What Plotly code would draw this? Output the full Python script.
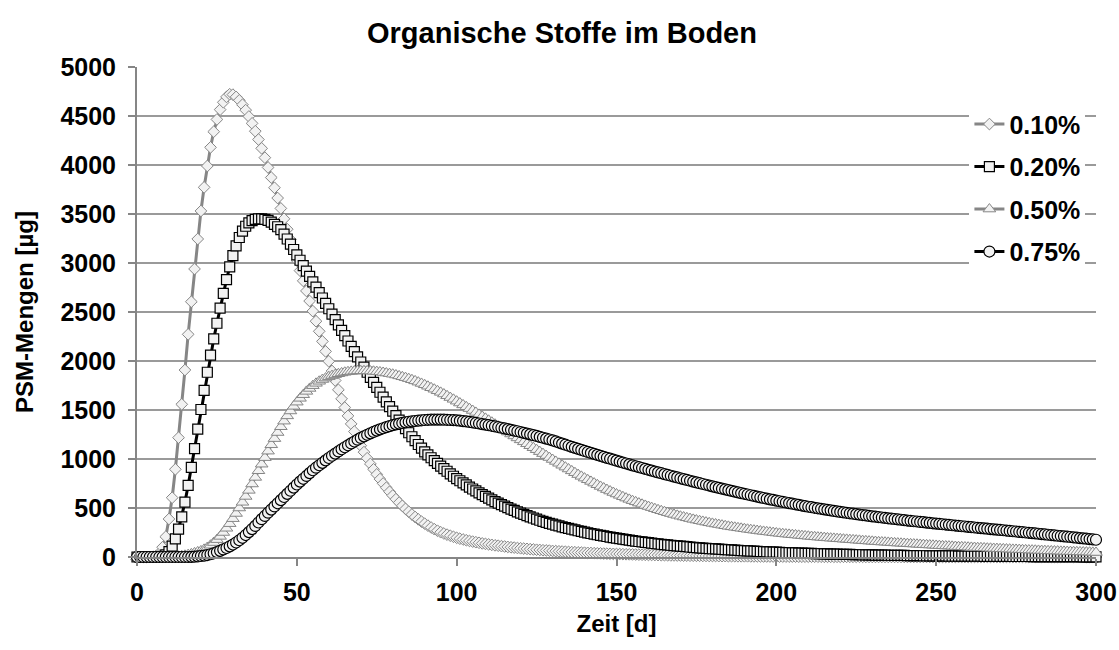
import plotly.graph_objects as go

days = list(range(0, 301))

s010 = [
    0, 0, 0, 0, 1, 3, 12, 40, 100, 207,
    388, 605, 895, 1218, 1558, 1908, 2272, 2605, 2939, 3245,
    3531, 3772, 3990, 4180, 4340, 4465, 4565, 4640, 4695, 4722,
    4718, 4695, 4660, 4615, 4560, 4495, 4425, 4345, 4260, 4170,
    4075, 3975, 3872, 3768, 3663, 3557, 3451, 3345, 3239, 3133,
    3027, 2922, 2818, 2715, 2612, 2509, 2406, 2303, 2200, 2098,
    1997, 1898, 1801, 1706, 1614, 1525, 1440, 1358, 1280, 1206,
    1136, 1070, 1008, 950, 895, 843, 795, 750, 707, 666,
    627, 590, 555, 522, 491, 462, 434, 408, 384, 361,
    340, 320, 301, 284, 268, 253, 240, 228, 217, 206,
    196, 187, 179, 171, 164, 157, 151, 145, 139, 134,
    129, 124, 119, 115, 111, 107, 103, 99, 96, 92,
    89, 86, 83, 80, 77, 74, 72, 69, 67, 65,
    62, 60, 58, 56, 54, 52, 50, 49, 47, 45,
    44, 42, 41, 39, 38, 37, 35, 34, 33, 32,
    31, 30, 29, 28, 27, 26, 25, 24, 23, 22,
    21, 21, 20, 19, 18, 18, 17, 16, 16, 15,
    15, 14, 14, 13, 13, 12, 12, 11, 11, 10,
    10, 10, 9, 9, 9, 8, 8, 8, 7, 7,
    7, 7, 6, 6, 6, 6, 5, 5, 5, 5,
    5, 4, 4, 4, 4, 4, 4, 3, 3, 3,
    3, 3, 3, 3, 3, 2, 2, 2, 2, 2,
    2, 2, 2, 2, 2, 2, 2, 2, 1, 1,
    1, 1, 1, 1, 1, 1, 1, 1, 1, 1,
    1, 1, 1, 1, 1, 1, 1, 1, 1, 1,
    0, 0, 0, 0, 0, 0, 0, 0, 0, 0,
    0, 0, 0, 0, 0, 0, 0, 0, 0, 0,
    0, 0, 0, 0, 0, 0, 0, 0, 0, 0,
    0, 0, 0, 0, 0, 0, 0, 0, 0, 0,
    0, 0, 0, 0, 0, 0, 0, 0, 0, 0,
    0,
]

s020 = [
    0, 0, 0, 0, 0, 0, 0, 2, 7, 22,
    55, 110, 185, 285, 410, 560, 730, 915, 1105, 1305,
    1505, 1700, 1885, 2060, 2225, 2385, 2540, 2690, 2830, 2960,
    3075, 3175, 3260, 3325, 3375, 3410, 3432, 3445, 3450, 3450,
    3445, 3435, 3418, 3395, 3370, 3340, 3295, 3245, 3192, 3138,
    3083, 3028, 2973, 2918, 2863, 2808, 2753, 2698, 2643, 2588,
    2533, 2478, 2423, 2368, 2313, 2258, 2204, 2150, 2096, 2043,
    1990, 1937, 1885, 1833, 1782, 1731, 1681, 1632, 1583, 1535,
    1488, 1442, 1397, 1353, 1310, 1268, 1227, 1187, 1148, 1110,
    1073, 1043, 1013, 984, 956, 928, 901, 875, 849, 824,
    800, 778, 756, 735, 714, 694, 674, 655, 636, 618,
    600, 583, 566, 550, 534, 519, 504, 489, 475, 461,
    448, 435, 422, 410, 398, 386, 375, 364, 353, 343,
    335, 326, 317, 308, 300, 292, 284, 276, 268, 261,
    254, 247, 240, 233, 227, 221, 215, 209, 203, 197,
    192, 187, 182, 177, 172, 167, 163, 158, 154, 150,
    146, 142, 138, 134, 130, 127, 123, 120, 117, 114,
    111, 108, 105, 102, 99, 96, 94, 91, 89, 86,
    84, 82, 80, 78, 76, 74, 72, 70, 68, 66,
    64, 62, 61, 59, 57, 56, 54, 53, 51, 50,
    49, 47, 46, 45, 44, 43, 41, 40, 39, 38,
    37, 36, 35, 34, 33, 32, 31, 30, 30, 29,
    28, 27, 26, 26, 25, 24, 24, 23, 22, 22,
    21, 20, 20, 19, 19, 18, 18, 17, 17, 16,
    16, 15, 15, 14, 14, 14, 13, 13, 12, 12,
    12, 11, 11, 11, 10, 10, 10, 9, 9, 9,
    9, 8, 8, 8, 8, 7, 7, 7, 7, 6,
    6, 6, 6, 6, 5, 5, 5, 5, 5, 5,
    4, 4, 4, 4, 4, 4, 4, 3, 3, 3,
    3, 3, 3, 3, 3, 3, 2, 2, 2, 2,
    2,
]

s050 = [
    0, 0, 0, 0, 0, 0, 0, 0, 0, 1,
    2, 3, 5, 8, 12, 17, 24, 32, 42, 52,
    62, 78, 97, 120, 147, 177, 210, 250, 293, 340,
    391, 444, 500, 558, 618, 680, 745, 812, 880, 947,
    1014, 1080, 1145, 1208, 1270, 1329, 1386, 1440, 1490, 1537,
    1580, 1619, 1656, 1690, 1720, 1748, 1772, 1793, 1811, 1826,
    1840, 1851, 1861, 1870, 1878, 1885, 1890, 1894, 1897, 1899,
    1900, 1900, 1899, 1897, 1895, 1892, 1888, 1883, 1877, 1871,
    1865, 1857, 1848, 1839, 1830, 1820, 1809, 1797, 1784, 1771,
    1757, 1742, 1727, 1712, 1696, 1680, 1663, 1645, 1627, 1609,
    1590, 1571, 1552, 1533, 1514, 1495, 1475, 1455, 1435, 1415,
    1395, 1375, 1355, 1335, 1315, 1295, 1275, 1255, 1235, 1215,
    1195, 1175, 1155, 1135, 1115, 1095, 1075, 1055, 1035, 1015,
    995, 975, 956, 936, 917, 898, 879, 860, 841, 823,
    805, 788, 771, 754, 737, 720, 704, 688, 673, 658,
    643, 629, 615, 601, 588, 575, 563, 550, 538, 526,
    515, 504, 493, 482, 472, 462, 452, 443, 434, 425,
    416, 408, 400, 392, 384, 377, 370, 363, 356, 349,
    343, 337, 331, 325, 319, 313, 308, 303, 298, 293,
    288, 283, 279, 274, 270, 265, 261, 257, 253, 249,
    245, 241, 238, 234, 231, 228, 225, 221, 218, 215,
    212, 209, 206, 203, 200, 198, 195, 192, 190, 187,
    185, 182, 180, 177, 175, 172, 170, 167, 165, 162,
    160, 158, 155, 153, 151, 149, 147, 144, 142, 140,
    138, 136, 134, 132, 130, 128, 126, 124, 122, 120,
    118, 116, 114, 112, 111, 109, 107, 105, 104, 102,
    100, 98, 97, 95, 94, 92, 90, 89, 87, 86,
    84, 83, 81, 80, 78, 77, 76, 74, 73, 71,
    70, 69, 67, 66, 65, 63, 62, 61, 60, 58,
    57, 56, 55, 54, 53, 52, 51, 50, 49, 47,
    46,
]

s075 = [
    0, 0, 0, 0, 0, 0, 0, 0, 0, 0,
    0, 0, 0, 0, 0, 0, 0, 1, 3, 6,
    10, 14, 20, 28, 38, 50, 63, 77, 92, 109,
    127, 148, 171, 196, 224, 254, 285, 317, 352, 386,
    419, 452, 484, 516, 548, 580, 612, 644, 676, 708,
    740, 769, 798, 827, 856, 885, 911, 936, 961, 986,
    1010, 1033, 1055, 1077, 1099, 1120, 1140, 1159, 1178, 1197,
    1215, 1231, 1247, 1262, 1276, 1290, 1302, 1314, 1325, 1335,
    1345, 1353, 1361, 1368, 1374, 1380, 1384, 1388, 1392, 1395,
    1398, 1400, 1401, 1402, 1402, 1402, 1401, 1400, 1398, 1397,
    1395, 1391, 1387, 1383, 1378, 1373, 1368, 1362, 1356, 1351,
    1345, 1339, 1332, 1326, 1319, 1312, 1305, 1298, 1290, 1283,
    1275, 1267, 1259, 1251, 1243, 1235, 1226, 1217, 1208, 1199,
    1190, 1179, 1168, 1157, 1146, 1135, 1124, 1114, 1103, 1093,
    1082, 1072, 1062, 1052, 1042, 1032, 1022, 1012, 1003, 993,
    983, 973, 964, 954, 945, 935, 926, 917, 908, 899,
    890, 881, 872, 863, 855, 846, 837, 829, 820, 812,
    803, 795, 786, 778, 769, 761, 753, 745, 737, 729,
    721, 713, 705, 697, 690, 682, 675, 667, 660, 652,
    645, 638, 630, 623, 616, 609, 602, 595, 588, 582,
    575, 569, 563, 556, 550, 544, 538, 532, 525, 519,
    513, 508, 502, 497, 492, 486, 481, 476, 470, 465,
    460, 455, 451, 446, 442, 437, 433, 428, 424, 419,
    415, 411, 407, 403, 399, 395, 391, 388, 384, 380,
    376, 372, 369, 365, 362, 358, 355, 351, 348, 344,
    341, 338, 334, 331, 328, 324, 321, 318, 314, 311,
    308, 305, 301, 298, 295, 292, 289, 285, 282, 279,
    276, 273, 270, 266, 263, 260, 257, 254, 250, 247,
    244, 241, 237, 234, 231, 227, 224, 221, 217, 214,
    211, 207, 204, 200, 197, 193, 190, 187, 183, 180,
    176,
]

series_names = ["0.10%", "0.20%", "0.50%", "0.75%"]
series_values = [s010, s020, s050, s075]
for v in series_values:
    assert len(v) == len(days), len(v)

x_tick_vals = [0, 50, 100, 150, 200, 250, 300]
y_tick_vals = [0, 500, 1000, 1500, 2000, 2500, 3000, 3500, 4000, 4500, 5000]

title_text = "Organische Stoffe im Boden"
x_title = "Zeit [d]"
y_title = "PSM-Mengen [µg]"

FONT = "Liberation Sans, Arial, sans-serif"
GRAY = "#868686"
FILL = "#f2f2f2"

styles = [
    dict(line_color=GRAY, symbol="diamond", size=9, mline=GRAY, mw=1),
    dict(line_color="#000000", symbol="square", size=10, mline="#000000", mw=1.2),
    dict(line_color=GRAY, symbol="triangle-up", size=11, mline=GRAY, mw=1),
    dict(line_color="#000000", symbol="circle", size=11, mline="#000000", mw=1.2),
]

W, H = 1119, 650

fig = go.Figure()
for i, (name, vals) in enumerate(zip(series_names, series_values)):
    st = styles[i]
    fig.add_trace(go.Scatter(
        x=days, y=vals, name=name, mode="lines+markers",
        line=dict(color=st["line_color"], width=3),
        marker=dict(symbol=st["symbol"], size=st["size"], color=FILL,
                    line=dict(color=st["mline"], width=st["mw"])),
        cliponaxis=False, legendgroup=name,
    ))

fig.update_layout(
    width=W, height=H,
    margin=dict(l=137, r=W - 1096, t=67, b=H - 557, autoexpand=False),
    paper_bgcolor="white", plot_bgcolor="white",
    font=dict(family=FONT, color="#000000", size=24),
    title=dict(text=title_text, x=562 / W, xref="container", xanchor="center",
               y=1 - 33 / H, yref="container", yanchor="middle",
               font=dict(family=FONT, size=29, color="#000000", weight="bold")),
    showlegend=True,
    legend=dict(x=0.868, xanchor="left", y=0.93, yanchor="top",
                bgcolor="white", borderwidth=0, tracegroupgap=7,
                font=dict(family=FONT, size=25, color="#000000", weight="bold"),
                itemwidth=30),
)
fig.update_xaxes(
    range=[0, 300], tickvals=x_tick_vals, ticktext=[str(v) for v in x_tick_vals],
    showgrid=False, zeroline=False, showline=True, linecolor=GRAY, linewidth=2,
    ticks="outside", ticklen=7, tickwidth=1.5, tickcolor=GRAY,
    tickfont=dict(family=FONT, size=25, color="#000000", weight="bold"),
    ticklabelstandoff=5,
    title=dict(text=x_title, standoff=10,
               font=dict(family=FONT, size=24, color="#000000", weight="bold")),
)
fig.update_yaxes(
    range=[0, 5000], tickvals=y_tick_vals, ticktext=[str(v) for v in y_tick_vals],
    showgrid=True, gridcolor="#9a9a9a", gridwidth=1.5,
    zeroline=False, showline=True, linecolor=GRAY, linewidth=2,
    ticks="outside", ticklen=7, tickwidth=1.5, tickcolor=GRAY,
    tickfont=dict(family=FONT, size=25, color="#000000", weight="bold"),
    ticklabelstandoff=7,
    title=dict(text=y_title, standoff=20,
               font=dict(family=FONT, size=24, color="#000000", weight="bold")),
)

# remove the default 8px page margin so the 1119x650 figure fills the window exactly
fig.write_html(
    "out.html",
    config={"displayModeBar": False},
    post_script="document.body.style.margin='0';document.body.style.overflow='hidden';",
)
